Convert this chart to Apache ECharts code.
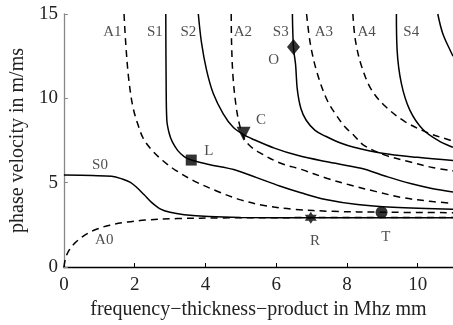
<!DOCTYPE html>
<html>
<head>
<meta charset="utf-8">
<script src="https://cdn.jsdelivr.net/npm/echarts@6/dist/echarts.min.js"></script>
<style>
  html, body { margin: 0; padding: 0; background: #fff; }
  #chart { width: 453px; height: 325px; }
</style>
</head>
<body>
<div id="chart"></div>
<script>
// dispersion curves, [fd, phase velocity]
const S0 = [[0,5.45],[0.8,5.42],[1.35,5.38],[1.65,5.22],[1.88,5.02],[2.07,4.7],[2.27,4.28],[2.47,3.85],[2.72,3.45],[3.0,3.24],[3.4,3.1],[4.1,2.99],[5,2.94],[7,2.92],[11,2.92]];
const A0 = [[0,0],[0.04,0.45],[0.12,0.9],[0.3,1.4],[0.6,1.9],[0.9,2.22],[1.3,2.48],[1.8,2.67],[2.3,2.78],[3.2,2.87],[4.5,2.91],[7,2.93],[11,2.94]];
const A1 = [[1.7,15],[1.75,13.2],[1.83,11.2],[1.95,9.5],[2.1,8.4],[2.25,7.6],[2.5,6.9],[2.8,6.3],[3.15,5.75],[3.7,5.08],[4.35,4.48],[5.0,3.98],[5.7,3.63],[6.5,3.42],[7.6,3.3],[9,3.25],[11,3.22]];
const S1 = [[2.88,15],[2.89,11],[2.91,8.7],[2.98,7.9],[3.07,7.4],[3.22,6.9],[3.4,6.55],[3.6,6.34],[4.1,6.08],[4.8,5.78],[5.45,5.3],[6.1,4.8],[6.7,4.4],[7.4,4.0],[8.3,3.7],[9.3,3.54],[11,3.42]];
const S2 = [[3.8,15],[3.89,13.3],[4.03,11.7],[4.22,10.3],[4.5,9.1],[4.78,8.3],[5.08,7.85],[5.3,7.62],[5.95,7.05],[6.6,6.62],[7.4,6.25],[8.4,5.85],[9.1,5.38],[9.8,4.95],[10.4,4.66],[11,4.45]];
const A2 = [[4.73,15],[4.74,13.3],[4.78,11.3],[4.87,9.5],[4.97,8.4],[5.1,7.6],[5.25,7.2],[5.48,6.84],[6.13,6.15],[6.69,5.8],[7.43,5.26],[8.09,4.86],[8.83,4.47],[9.58,4.11],[10.42,3.88],[11,3.78]];
const S3 = [[6.46,15],[6.49,13.0],[6.55,12.0],[6.6,10.5],[6.7,9.4],[6.85,8.7],[7.1,8.1],[7.4,7.75],[7.82,7.35],[8.2,7.1],[9.0,6.74],[10.0,6.5],[11,6.32]];
const A3 = [[6.86,15],[6.97,13.2],[7.16,11.5],[7.44,9.9],[7.7,9.0],[7.95,8.3],[8.2,7.8],[8.47,7.23],[9.1,6.62],[9.77,6.24],[10.42,5.9],[11,5.7]];
const A4 = [[8.17,15],[8.24,13.45],[8.42,11.87],[8.7,10.49],[9.1,9.5],[9.65,8.61],[10.3,7.95],[10.9,7.53],[11,7.48]];
const S4 = [[9.4,15],[9.42,12.86],[9.54,10.89],[9.78,9.3],[10.15,8.15],[10.62,7.45],[11,7.1]];
const S5 = [[10.57,15],[10.71,13.85],[10.96,12.67],[11,12.5]];

// marked points
const pointL = [3.6, 6.34];
const pointC = [5.08, 7.9];
const pointO = [6.49, 13.05];
const pointR = [6.98, 2.92];
const pointT = [8.98, 3.24];

// text labels: [x, y, text]
const modeLabels = [[1.37,13.95,'A1'],[2.57,13.95,'S1'],[3.52,13.95,'S2'],[5.06,13.95,'A2'],[6.13,13.95,'S3'],[7.35,13.95,'A3'],[8.56,13.95,'A4'],[9.82,13.95,'S4'],[1.02,6.05,'S0'],[1.14,1.6,'A0']];
const pointLabels = [[4.1,6.9,'L'],[5.57,8.7,'C'],[5.93,12.25,'O'],[7.1,1.55,'R'],[9.1,1.8,'T']];

const xTicks = [0, 2, 4, 6, 8, 10];
const yTicks = [0, 5, 10, 15];

const FONT = '"Liberation Serif", "DejaVu Serif", serif';

const chart = echarts.init(document.getElementById('chart'));

function curve(name, data, dashed) {
  return {
    name: name,
    type: 'line',
    data: data,
    smooth: 0.35,
    showSymbol: false,
    symbol: 'none',
    lineStyle: { color: '#000', width: 1.5, type: dashed ? [7, 5] : 'solid' },
    z: 2,
    silent: true,
  };
}

function marker(point, symbol, size, rotate) {
  return {
    type: 'scatter',
    data: [point],
    symbol: symbol,
    symbolSize: size,
    symbolRotate: rotate || 0,
    itemStyle: { color: '#000' },
    z: 5,
    silent: true,
  };
}

function textSeries(items, fontSize) {
  return {
    type: 'scatter',
    data: items.map(d => ({ value: [d[0], d[1]], label: { formatter: d[2] } })),
    symbolSize: 0,
    itemStyle: { color: 'transparent' },
    label: {
      show: true,
      position: 'inside',
      color: '#222',
      fontFamily: FONT,
      fontSize: fontSize,
    },
    z: 6,
    silent: true,
  };
}

const hexStar = 'path://M0,-10L2.9,-5L8.66,-5L5.77,0L8.66,5L2.9,5L0,10L-2.9,5L-8.66,5L-5.77,0L-8.66,-5L-2.9,-5Z';

const option = {
  animation: false,
  grid: { left: 61, right: 0, top: 14, bottom: 58 },
  xAxis: {
    type: 'value',
    min: 0,
    max: 11,
    interval: 2,
    name: 'frequency\u2212thickness\u2212product in Mhz mm',
    nameLocation: 'middle',
    nameGap: 31,
    nameTextStyle: { fontFamily: FONT, fontSize: 20, color: '#222' },
    axisLine: { lineStyle: { color: '#000', width: 1.3 } },
    axisTick: { inside: true, length: 4, lineStyle: { color: '#000' }, customValues: xTicks },
    axisLabel: { fontFamily: FONT, fontSize: 19, color: '#222', margin: 9, customValues: xTicks },
    splitLine: { show: false },
  },
  yAxis: {
    type: 'value',
    min: 0,
    max: 15,
    interval: 5,
    name: 'phase velocity in m/ms',
    nameLocation: 'middle',
    nameGap: 34,
    nameTextStyle: { fontFamily: FONT, fontSize: 20, color: '#222' },
    axisLine: { show: true, lineStyle: { color: '#888', width: 1.3 } },
    axisTick: { show: true, inside: true, length: 4, lineStyle: { color: '#888' }, customValues: yTicks },
    axisLabel: { fontFamily: FONT, fontSize: 19, color: '#222', margin: 6, customValues: yTicks },
    splitLine: { show: false },
  },
  series: [
    curve('S0', S0, false),
    curve('A0', A0, true),
    curve('A1', A1, true),
    curve('S1', S1, false),
    curve('S2', S2, false),
    curve('A2', A2, true),
    curve('S3', S3, false),
    curve('A3', A3, true),
    curve('A4', A4, true),
    curve('S4', S4, false),
    curve('S5', S5, false),
    marker(pointL, 'rect', 11),
    marker(pointC, 'triangle', 14, 180),
    marker(pointO, 'diamond', [13, 16]),
    marker(pointR, hexStar, 12),
    marker(pointT, 'circle', 12),
    textSeries(modeLabels, 15),
    textSeries(pointLabels, 15),
  ],
};

chart.setOption(option);
</script>
</body>
</html>
